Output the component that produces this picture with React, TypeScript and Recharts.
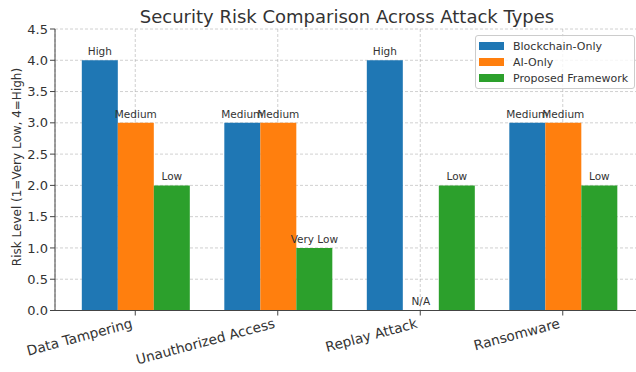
import React from 'react';
import {
  Bar,
  BarChart,
  CartesianGrid,
  Cell,
  Customized,
  LabelList,
  XAxis,
  YAxis,
} from 'recharts';

const categories = ['Data Tampering', 'Unauthorized Access', 'Replay Attack', 'Ransomware'];
const blockchainOnly = [4, 3, 4, 3];
const aiOnly = [3, 3, 0, 3];
const proposedFramework = [2, 1, 2, 2];
const blockchainLabels = ['High', 'Medium', 'High', 'Medium'];
const aiLabels = ['Medium', 'Medium', 'N/A', 'Medium'];
const proposedLabels = ['Low', 'Very Low', 'Low', 'Low'];
const seriesNames = ['Blockchain-Only', 'AI-Only', 'Proposed Framework'];
const seriesColors = ['#1f77b4', '#ff7f0e', '#2ca02c'];
const yTicks = [0, 0.5, 1, 1.5, 2, 2.5, 3, 3.5, 4, 4.5];

const FONT = 'DejaVu Sans, sans-serif';
const TEXT = '#333333';
const AXIS = '#444444';

const data = categories.map((name, i) => ({
  name,
  blockchain: blockchainOnly[i],
  ai: aiOnly[i],
  proposed: proposedFramework[i],
  blockchainLabel: blockchainLabels[i],
  aiLabel: aiLabels[i],
  proposedLabel: proposedLabels[i],
}));

function CategoryTick({ x, y, payload }: any) {
  return (
    <text
      x={0}
      y={0}
      transform={`translate(${x - 2},${y + 10}) rotate(-15)`}
      textAnchor="end"
      fontSize={13.7}
      fontFamily={FONT}
      fill={TEXT}
    >
      {payload.value}
    </text>
  );
}

// bar value label, drawn without wrapping
function ValueLabel({ x, y, width, value }: any) {
  return (
    <text
      x={x + width / 2}
      y={y - 5}
      textAnchor="middle"
      fontSize={10.5}
      fontFamily={FONT}
      fill={TEXT}
    >
      {value}
    </text>
  );
}

function LegendBox() {
  return (
    <div
      style={{
        position: 'absolute',
        left: 475,
        top: 35,
        border: '1px solid #cccccc',
        borderRadius: 3,
        background: 'rgba(255,255,255,0.8)',
        padding: '2px 6px 2px 3px',
        fontFamily: FONT,
        fontSize: 11,
        color: TEXT,
        whiteSpace: 'nowrap',
      }}
    >
      {seriesNames.map((name, i) => (
        <div key={name} style={{ display: 'flex', alignItems: 'center', height: 16 }}>
          <span
            style={{
              display: 'inline-block',
              width: 25,
              height: 8,
              background: seriesColors[i],
              marginRight: 9,
            }}
          />
          <span>{name}</span>
        </div>
      ))}
    </div>
  );
}

function Titles() {
  return (
    <g>
      <text x={347} y={23} textAnchor="middle" fontSize={18} fontFamily={FONT} fill={TEXT}>
        Security Risk Comparison Across Attack Types
      </text>
      <text
        x={0}
        y={0}
        transform="translate(21,167) rotate(-90)"
        textAnchor="middle"
        fontSize={12}
        fontFamily={FONT}
        fill={TEXT}
      >
        Risk Level (1=Very Low, 4=High)
      </text>
    </g>
  );
}

export default function App() {
  return (
    <div
      style={{
        position: 'fixed',
        left: 0,
        top: 0,
        width: 636,
        height: 372,
        overflow: 'hidden',
        background: '#fff',
      }}
    >
      <BarChart
        width={660}
        height={372}
        data={data}
        margin={{ top: 29, right: 17, bottom: 0, left: 0 }}
        barCategoryGap="12.5%"
        barGap={0}
      >
        <XAxis
          dataKey="name"
          height={61.5}
          padding={{ left: 9, right: 9 }}
          tick={<CategoryTick />}
          tickSize={5}
          axisLine={{ stroke: AXIS }}
          tickLine={{ stroke: AXIS }}
          interval={0}
        />
        <YAxis
          width={55}
          domain={[0, 4.5]}
          ticks={yTicks}
          tickFormatter={(v: number) => v.toFixed(1)}
          tick={{ fontSize: 13, fontFamily: FONT, fill: TEXT }}
          tickSize={5}
          axisLine={{ stroke: AXIS }}
          tickLine={{ stroke: AXIS }}
          interval={0}
        />
        <Bar dataKey="blockchain" name={seriesNames[0]} fill={seriesColors[0]} isAnimationActive={false}>
          <LabelList dataKey="blockchainLabel" content={<ValueLabel />} />
        </Bar>
        <Bar
          dataKey="ai"
          name={seriesNames[1]}
          fill={seriesColors[1]}
          minPointSize={(v: any) => (v === 0 ? 0.01 : 0)}
          isAnimationActive={false}
        >
          {aiOnly.map((v, i) => (
            <Cell key={i} fill={v === 0 ? 'transparent' : seriesColors[1]} />
          ))}
          <LabelList dataKey="aiLabel" content={<ValueLabel />} />
        </Bar>
        <Bar dataKey="proposed" name={seriesNames[2]} fill={seriesColors[2]} isAnimationActive={false}>
          <LabelList dataKey="proposedLabel" content={<ValueLabel />} />
        </Bar>
        <CartesianGrid stroke="#b0b0b0" strokeOpacity={0.6} strokeDasharray="3 2" />
        <Customized component={<Titles />} />
      </BarChart>
      <LegendBox />
    </div>
  );
}
